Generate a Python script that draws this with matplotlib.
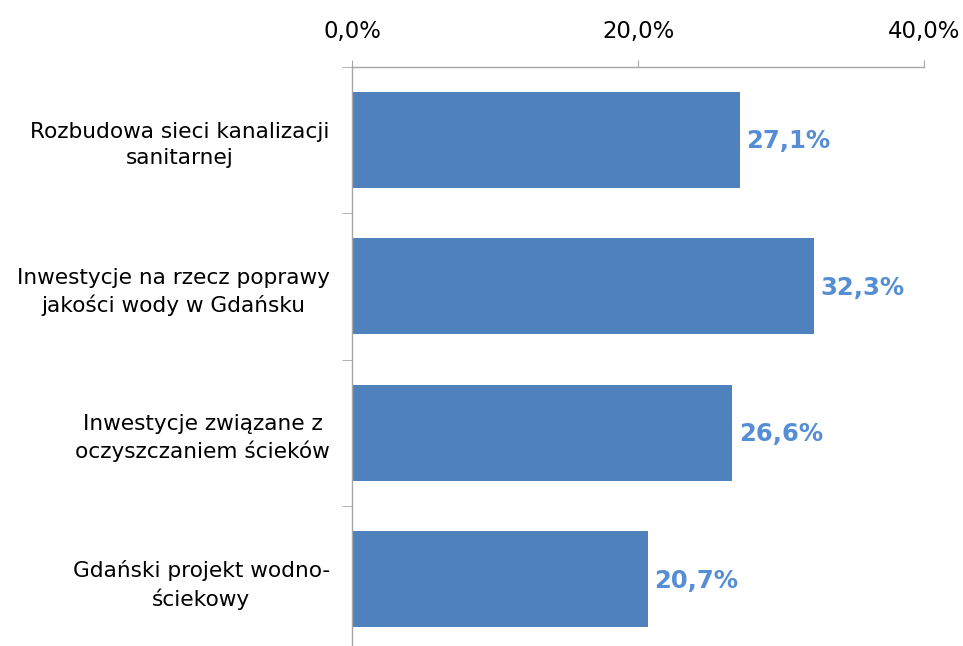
import matplotlib
matplotlib.use('Agg')
import matplotlib.pyplot as plt
from matplotlib.ticker import FixedLocator

categories = ['Rozbudowa sieci kanalizacji\nsanitarnej',
              'Inwestycje na rzecz poprawy\njakości wody w Gdańsku',
              'Inwestycje związane z\noczyszczaniem ścieków',
              'Gdański projekt wodno-\nściekowy']
values = [27.1, 32.3, 26.6, 20.7]
xticks = [0, 20, 40]
xtick_labels = ['0,0%', '20,0%', '40,0%']

bar_color = '#4F81BD'
label_color = '#558ED5'
axis_color = '#A6A6A6'

plt.rcParams['font.family'] = ['DejaVu Sans']

W, H = 963, 646
top_px = 66.5
fig = plt.figure(figsize=(W / 100, H / 100), dpi=100)
ax = fig.add_axes([352 / W, 0, (924 - 352) / W, 1 - top_px / H])

y = list(range(len(categories)))
ax.barh(y, values, height=0.655, color=bar_color, zorder=2)
for yi, v in zip(y, values):
    ax.text(v + 0.45, yi + 0.01, f'{v:.1f}%'.replace('.', ','), va='center', ha='left',
            color=label_color, fontsize=17.5, fontweight='bold')

ax.set_xlim(0, 40)
ax.set_ylim(-0.5 + (H - top_px) / 146.5, -0.5)

ax.xaxis.tick_top()
ax.set_xticks(xticks)
ax.set_xticklabels(xtick_labels, fontsize=16.4)
ax.tick_params(axis='x', direction='out', length=5, color=axis_color, pad=12)

ax.set_yticks(y)
ax.set_yticklabels(categories, fontsize=15.6, multialignment='center', linespacing=1.4)
ax.tick_params(axis='y', which='major', length=0, pad=16)
ax.yaxis.set_minor_locator(FixedLocator([-0.5, 0.5, 1.5, 2.5]))
ax.tick_params(axis='y', which='minor', direction='out', length=7, color=axis_color)

for s in ['bottom', 'right']:
    ax.spines[s].set_visible(False)
for s in ['top', 'left']:
    ax.spines[s].set_color(axis_color)
    ax.spines[s].set_linewidth(1)

fig.savefig('out.png', dpi=100)
